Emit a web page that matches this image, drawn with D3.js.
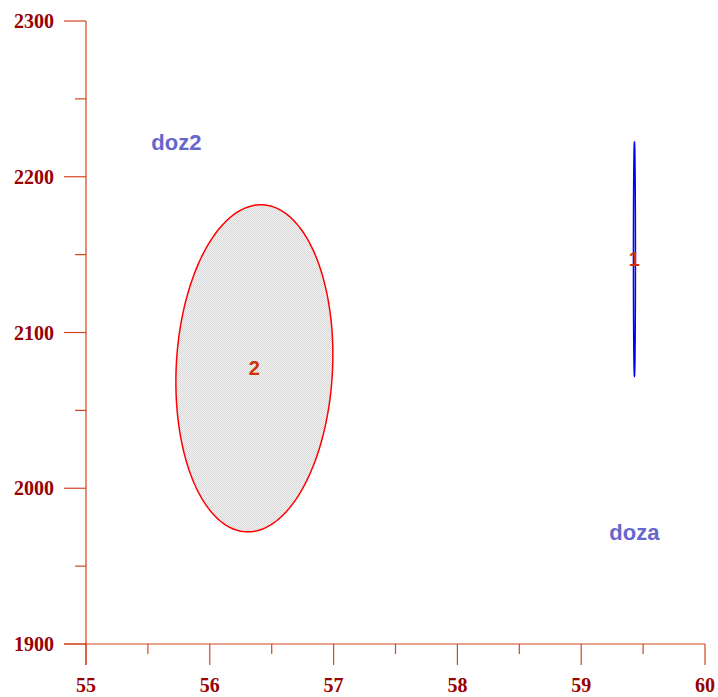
<!DOCTYPE html>
<html>
<head>
<meta charset="utf-8">
<script src="https://cdn.jsdelivr.net/npm/d3@7"></script>
<style>
  html, body { margin: 0; padding: 0; background: #ffffff; }
  svg { display: block; }
</style>
</head>
<body>
<svg id="chart" width="718" height="697"></svg>
<script>
// Axis ranges and tick labels
const xTicks = [55, 56, 57, 58, 59, 60];
const xMinorTicks = [55.5, 56.5, 57.5, 58.5, 59.5];
const yTicks = [1900, 2000, 2100, 2200, 2300];
const yMinorTicks = [1950, 2050, 2150, 2250];

// Confidence ellipses: id, centre, half-extents, correlation
const ellipseIds = ["1", "2"];
const ellipseCx = [59.43, 56.36];
const ellipseCy = [2147, 2077];
const ellipseRx = [0.008, 0.634];
const ellipseRy = [75, 105];
const ellipseRho = [0.0, 0.083];
const ellipseStroke = ["#0000ff", "#ff0000"];
const ellipseFilled = [false, true];

// Group captions
const captionText = ["doz2", "doza"];
const captionX = [55.73, 59.43];
const captionY = [2222, 1972];

const svg = d3.select("#chart");

const x = d3.scaleLinear().domain([55, 60]).range([86, 705]);
const y = d3.scaleLinear().domain([1900, 2300]).range([644, 21]);

const axisColor = "#d2461e";
const labelColor = "#990000";

// Stipple fill
const defs = svg.append("defs");
const pat = defs.append("pattern")
  .attr("id", "stipple")
  .attr("patternUnits", "userSpaceOnUse")
  .attr("width", 2).attr("height", 2);
pat.append("rect").attr("width", 2).attr("height", 2).attr("fill", "#f4f4f4");
pat.append("rect").attr("width", 1).attr("height", 1).attr("fill", "#d6d6d6");
pat.append("rect").attr("x", 1).attr("y", 1).attr("width", 1).attr("height", 1).attr("fill", "#d6d6d6");

// Ellipses
const line = d3.line().x(d => x(d[0])).y(d => y(d[1])).curve(d3.curveLinearClosed);
ellipseIds.forEach((id, i) => {
  const pts = d3.range(0, 360, 2).map(deg => {
    const t = deg * Math.PI / 180;
    const r = ellipseRho[i];
    return [
      ellipseCx[i] + ellipseRx[i] * Math.cos(t),
      ellipseCy[i] + ellipseRy[i] * (r * Math.cos(t) + Math.sqrt(1 - r * r) * Math.sin(t))
    ];
  });
  svg.append("path")
    .attr("d", line(pts))
    .attr("fill", ellipseFilled[i] ? "url(#stipple)" : "none")
    .attr("stroke", ellipseStroke[i])
    .attr("stroke-width", 1.5);
  svg.append("text")
    .attr("x", x(ellipseCx[i]))
    .attr("y", y(ellipseCy[i]))
    .attr("dy", "0.35em")
    .attr("text-anchor", "middle")
    .attr("font-family", "Liberation Sans, Arial, sans-serif")
    .attr("font-weight", "bold")
    .attr("font-size", 20)
    .attr("fill", "#cc3300")
    .text(id);
});

// Captions
captionText.forEach((t, i) => {
  svg.append("text")
    .attr("x", x(captionX[i]))
    .attr("y", y(captionY[i]))
    .attr("dy", "0.35em")
    .attr("text-anchor", "middle")
    .attr("font-family", "Liberation Sans, Arial, sans-serif")
    .attr("font-weight", "bold")
    .attr("font-size", 22)
    .attr("fill", "#6666cc")
    .text(t);
});

// X axis
const gx = svg.append("g").attr("transform", `translate(0,${y(1900)})`);
gx.append("line").attr("x1", 64).attr("x2", x(60)).attr("stroke", axisColor).attr("stroke-width", 1.2);
gx.selectAll(".maj").data(xTicks).join("line")
  .attr("x1", d => x(d)).attr("x2", d => x(d)).attr("y1", 0).attr("y2", 21)
  .attr("stroke", axisColor).attr("stroke-width", 1.2);
gx.selectAll(".min").data(xMinorTicks).join("line")
  .attr("x1", d => x(d)).attr("x2", d => x(d)).attr("y1", 0).attr("y2", 10)
  .attr("stroke", axisColor).attr("stroke-width", 1.2);
gx.selectAll("text").data(xTicks).join("text")
  .attr("x", d => x(d)).attr("y", 48)
  .attr("text-anchor", "middle")
  .attr("font-family", "Liberation Serif, Times New Roman, serif")
  .attr("font-weight", "bold").attr("font-size", 20)
  .attr("fill", labelColor)
  .text(d => d);

// Y axis
const gy = svg.append("g").attr("transform", `translate(${x(55)},0)`);
gy.append("line").attr("y1", y(2300)).attr("y2", 665).attr("stroke", axisColor).attr("stroke-width", 1.2);
gy.selectAll(".maj").data(yTicks).join("line")
  .attr("y1", d => y(d)).attr("y2", d => y(d)).attr("x1", -22).attr("x2", 0)
  .attr("stroke", axisColor).attr("stroke-width", 1.2);
gy.selectAll(".min").data(yMinorTicks).join("line")
  .attr("y1", d => y(d)).attr("y2", d => y(d)).attr("x1", -11).attr("x2", 0)
  .attr("stroke", axisColor).attr("stroke-width", 1.2);
gy.selectAll("text").data(yTicks).join("text")
  .attr("x", -32).attr("y", d => y(d)).attr("dy", "0.35em")
  .attr("text-anchor", "end")
  .attr("font-family", "Liberation Serif, Times New Roman, serif")
  .attr("font-weight", "bold").attr("font-size", 20)
  .attr("fill", labelColor)
  .text(d => d);
</script>
</body>
</html>
